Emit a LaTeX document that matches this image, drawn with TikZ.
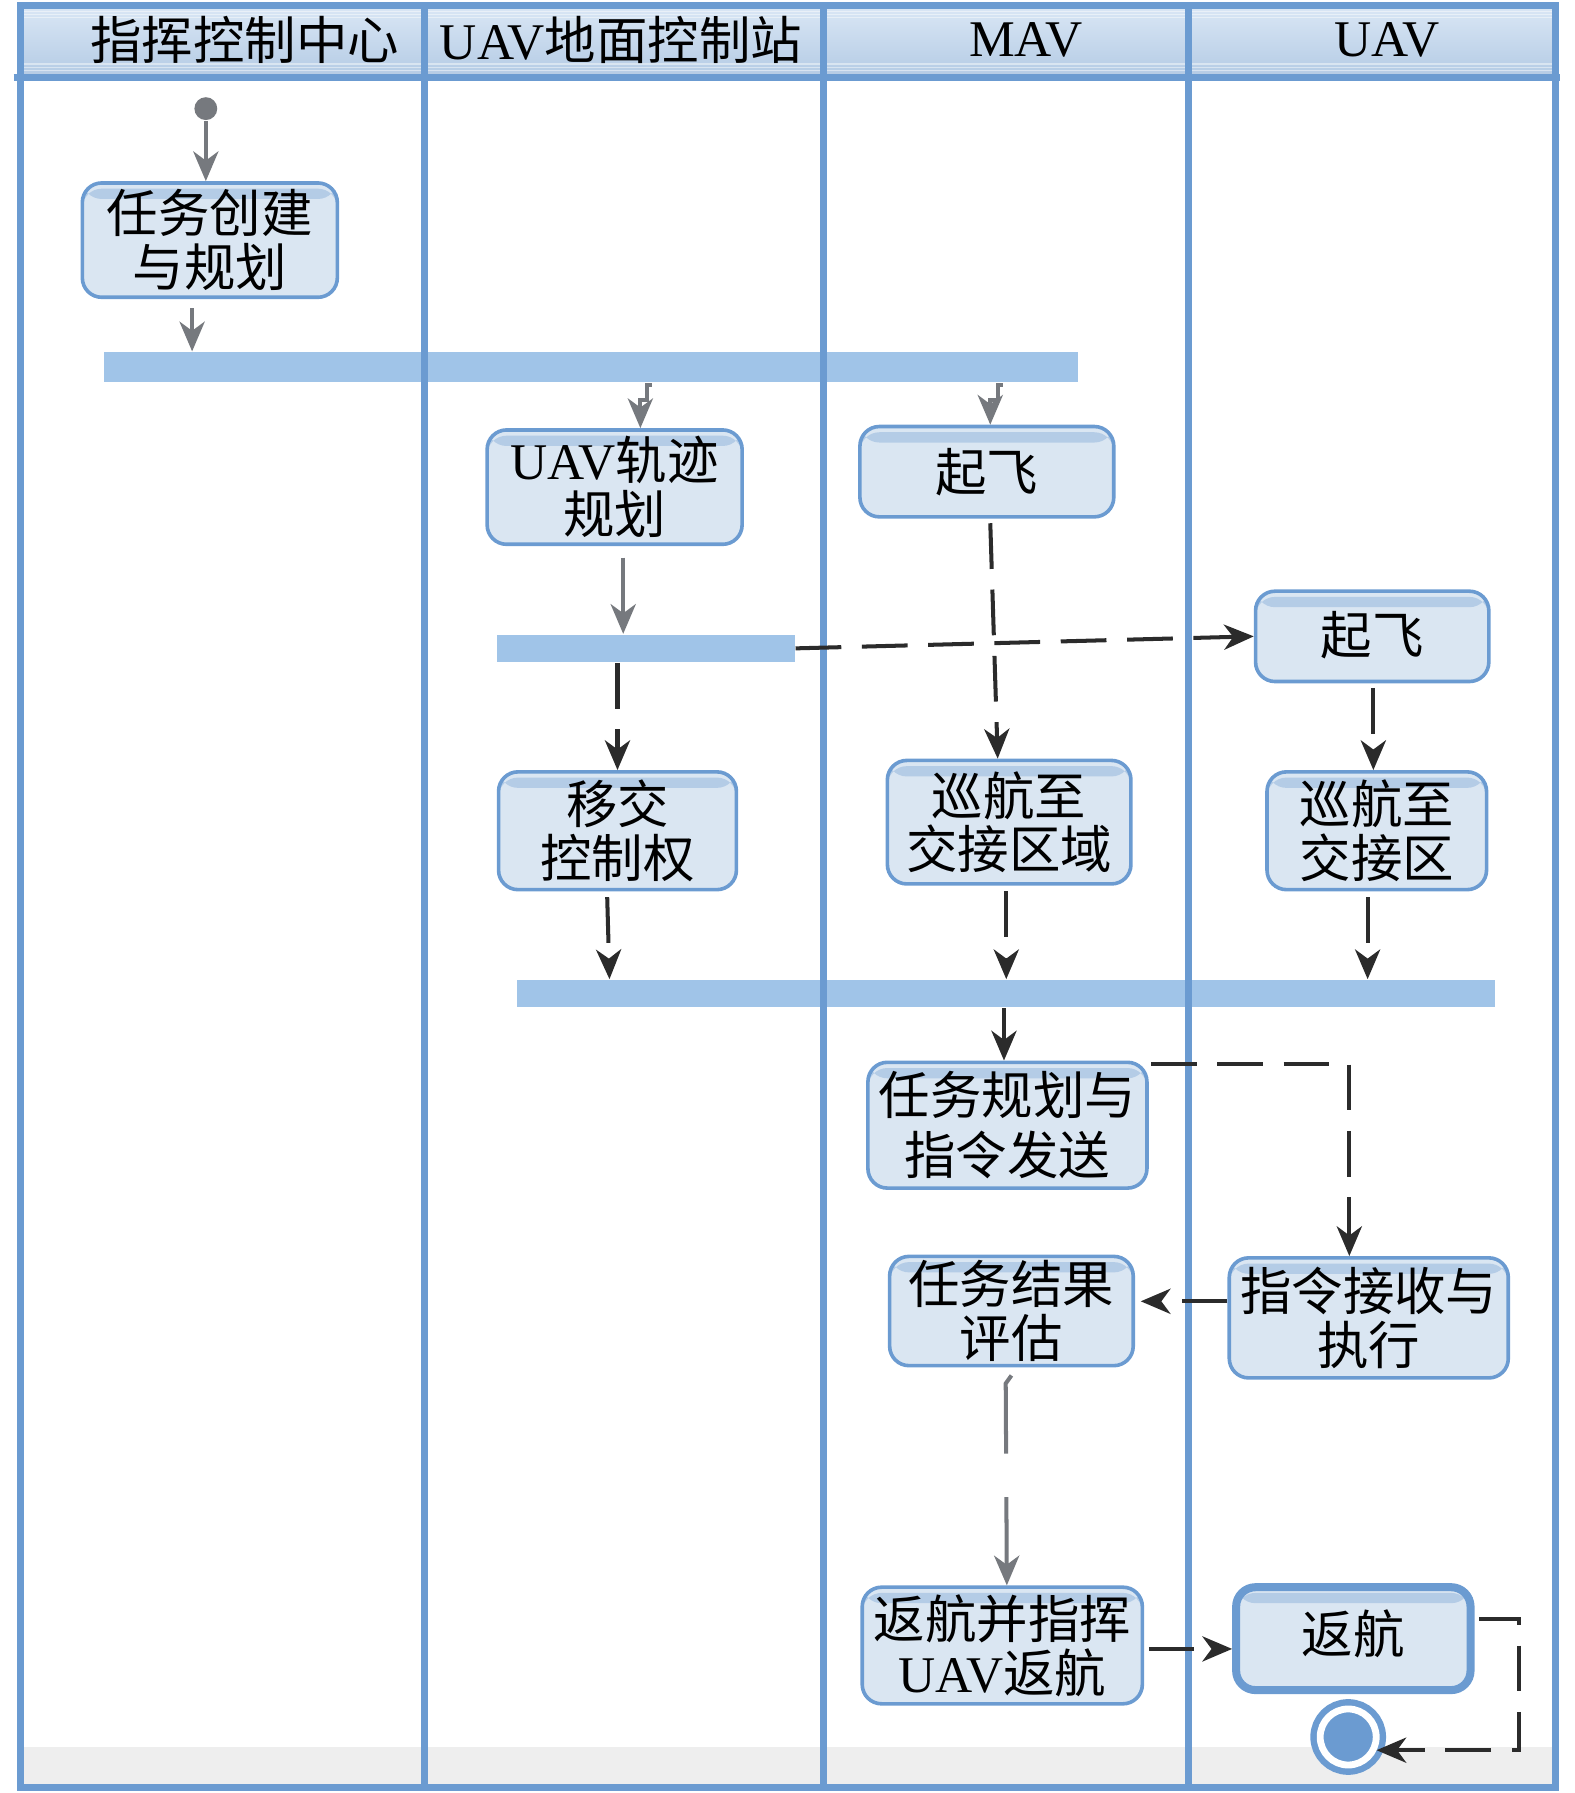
\documentclass[tikz,border=0pt]{standalone}
\usepackage{fontspec}
\setmainfont{Liberation Serif}
\newfontfamily\cjkfont{Noto Sans CJK SC}
\usetikzlibrary{arrows.meta}
\usetikzlibrary{calc}

\definecolor{laneblue}{HTML}{6B9BD1}
\definecolor{barblue}{HTML}{A0C4E8}
\definecolor{actfill}{HTML}{DAE6F2}
\definecolor{acttop}{HTML}{B4CCE6}
\definecolor{headtop}{HTML}{DAE7F5}
\definecolor{headbot}{HTML}{B3CAE4}
\definecolor{bandgray}{HTML}{EEEEEE}
\definecolor{arrowgray}{HTML}{76797E}
\definecolor{arrowdark}{HTML}{2B2B2B}

\tikzset{
    laneline/.style={draw=laneblue, line width=1.7pt},
    lanehead/.style={font=\cjkfont\fontsize{12.8}{14}\selectfont, inner sep=0pt},
    act/.style={draw=laneblue, fill=actfill, line width=0.9pt, rounded corners=0.17cm,
        align=center, inner sep=1pt, font=\cjkfont\fontsize{12.8}{13.4}\selectfont,
        path picture={\fill[acttop] ($(path picture bounding box.north west)+(0,-0.05)$)
            rectangle ($(path picture bounding box.north east)+(0,-0.14)$);}},
    forkbar/.style={fill=barblue, inner sep=0pt},
    graylink/.style={draw=arrowgray, line width=1pt,
        -{Stealth[length=2.6mm,width=2.2mm,inset=0.8mm]}},
    darklink/.style={draw=arrowdark, line width=1pt,
        -{Stealth[length=2.6mm,width=2.2mm,inset=0.8mm]}},
    dashlink/.style={darklink, dash pattern=on 4mm off 1.8mm},
}

\begin{document}
\begin{tikzpicture}

	\useasboundingbox (0,0) rectangle (13.77,-15.68);

	% lanes
	\fill[top color=headtop, bottom color=headbot] (0.18,-0.05) rectangle (13.60,-0.68);
	\foreach \y in {-0.10,-0.125,-0.15,-0.56,-0.59,-0.62}
		\draw[white, opacity=0.45, line width=0.3pt] (0.18,\y) -- (13.60,\y);
	\fill[bandgray] (0.18,-15.28) rectangle (13.60,-15.60);

	\node[lanehead] (h1) at (2.14,-0.35) {指挥控制中心};
	\node[lanehead] (h2) at (5.43,-0.35) {{\rmfamily UAV}地面控制站};
	\node[lanehead] (h3) at (8.97,-0.35) {\rmfamily MAV};
	\node[lanehead] (h4) at (12.13,-0.35) {\rmfamily UAV};

	% fork bars
	\node[forkbar, minimum width=8.52cm, minimum height=0.26cm] (bar1) at (5.17,-3.21) {};
	\node[forkbar, minimum width=2.60cm, minimum height=0.24cm] (bar2) at (5.65,-5.67) {};
	\node[forkbar, minimum width=8.55cm, minimum height=0.24cm] (bar3) at (8.795,-8.69) {};

	\draw[laneline] (0.18,-0.05) rectangle (13.60,-15.63);
	\draw[laneline] (0.12,-0.68) -- (13.64,-0.68);
	\foreach \x in {3.71,7.20,10.39}
		\draw[laneline] (\x,-0.05) -- (\x,-15.63);

	% activities
	\node[circle, fill=arrowgray, minimum size=0.2cm, inner sep=0pt] (start) at (1.80,-0.95) {};
	\node[act, minimum width=2.23cm, minimum height=1.00cm] (A) at (1.835,-2.10) {任务创建\\与规划};
	\node[act, minimum width=2.23cm, minimum height=1.00cm] (B) at (5.375,-4.26) {{\rmfamily UAV}轨迹\\规划};
	\node[act, minimum width=2.22cm, minimum height=0.79cm] (C) at (8.63,-4.125) {起飞};
	\node[act, minimum width=2.04cm, minimum height=0.79cm] (D) at (12.00,-5.565) {\raisebox{0.6mm}{起飞}};
	\node[act, minimum width=2.08cm, minimum height=1.03cm] (E) at (5.40,-7.265) {移交\\控制权};
	\node[act, minimum width=2.13cm, minimum height=1.08cm] (G) at (8.825,-7.19) {巡航至\\交接区域};
	\node[act, minimum width=1.92cm, minimum height=1.03cm] (F) at (12.04,-7.265) {巡航至\\交接区};
	\node[act, minimum width=2.44cm, minimum height=1.10cm,
		font=\cjkfont\fontsize{12.8}{15}\selectfont] (H) at (8.81,-9.84) {任务规划与\\指令发送};
	\node[act, minimum width=2.44cm, minimum height=1.05cm] (I) at (11.97,-11.525) {指令接收与\\执行};
	\node[act, minimum width=2.13cm, minimum height=0.93cm] (J) at (8.845,-11.465) {任务结果\\评估};
	\node[act, minimum width=2.45cm, minimum height=1.02cm] (K) at (8.765,-14.39) {返航并指挥\\{\rmfamily UAV}返航};
	\node[act, line width=2pt, minimum width=2.05cm, minimum height=0.90cm] (L) at (11.835,-14.33) {\raisebox{1.2mm}{返航}};
	\node[circle, fill=laneblue, draw=laneblue, line width=1.6pt, double=white, double distance=1.7pt,
		minimum size=0.49cm, inner sep=0pt] (end) at (11.79,-15.19) {};

	% flows
	\draw[graylink] (start) -- (start |- A.north);
	\draw[graylink] ($(A.south)+(-0.155,-0.08)$) -- ($(A.south |- bar1.north)+(-0.155,0)$);
	\draw[graylink] ($(B.north |- bar1.south)+(0.325,-0.02)$) -- ++(-0.04,0) -- ++(0,-0.13)
		-- ++(-0.06,0) -- ($(B.north)+(0.225,0)$);
	\draw[graylink] ($(C.north |- bar1.south)+(0.14,-0.02)$) -- ++(-0.04,0) -- ++(0,-0.13)
		-- ++(-0.07,0) -- ($(C.north)+(0.03,0)$);
	\draw[graylink] ($(B.south)+(0.075,-0.10)$) -- ($(B.south |- bar2.north)+(0.075,0)$);

	\draw[dashlink] (bar2.east) -- (D.west);
	\draw[dashlink] ($(C.south)+(0.03,-0.04)$) -- ($(G.north)+(-0.10,0)$);
	\draw[dashlink] ($(D.south)+(0.01,-0.04)$) -- ($(D.south |- F.north)+(0.01,0)$);
	\draw[dashlink] (E.north |- bar2.south) -- (E.north);

	\draw[dashlink] ($(E.south)+(-0.09,-0.05)$) -- ($(E.south |- bar3.north)+(-0.07,0)$);
	\draw[dashlink] ($(G.south)+(-0.025,-0.05)$) -- ($(G.south |- bar3.north)+(-0.025,0)$);
	\draw[dashlink] ($(F.south)+(-0.08,-0.05)$) -- ($(F.south |- bar3.north)+(-0.08,0)$);

	\draw[darklink] ($(H.north |- bar3.south)+(-0.03,0)$) -- ($(H.north)+(-0.03,0)$);
	\draw[dashlink] ($(H.north east)+(0.02,-0.03)$) -| ($(I.north)+(-0.17,0)$);
	\draw[dashlink] ($(I.west)+(0,0.145)$) -- ($(I.west -| J.east)+(0.05,0.145)$);
	\draw[graylink, dash pattern=on 7mm off 3.8mm] ($(J.south)+(0,-0.07)$) -- ++(-0.05,-0.07)
		-- ($(K.north)+(0.04,0)$);
	\draw[dashlink] ($(K.east)+(0.04,-0.03)$) -- ($(K.east -| L.west)+(0,-0.03)$);
	\draw[dashlink] ($(L.east)+(0.04,0.17)$) -- ++(0.35,0) |- (end.-25);

\end{tikzpicture}
\end{document}
